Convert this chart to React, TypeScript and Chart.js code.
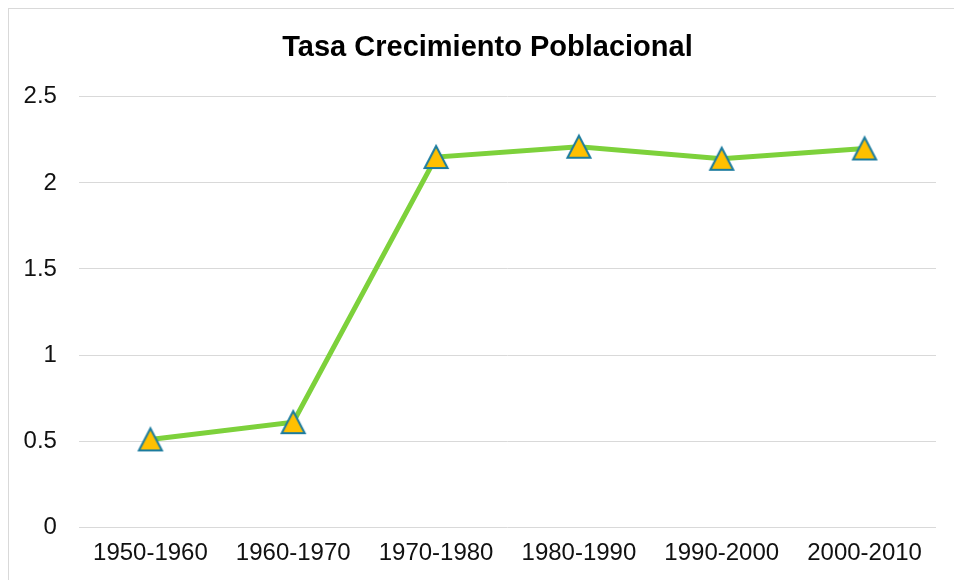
import React, { useEffect, useRef } from "react";
import { Chart, registerables } from "chart.js";

Chart.register(...registerables);

const categories = ["1950-1960", "1960-1970", "1970-1980", "1980-1990", "1990-2000", "2000-2010"];
const tasa = [0.51, 0.61, 2.15, 2.21, 2.14, 2.2];
const titleText = "Tasa Crecimiento Poblacional";

function makeMarker(): HTMLCanvasElement {
  const c = document.createElement("canvas");
  c.width = 28;
  c.height = 28;
  const ctx = c.getContext("2d")!;
  ctx.beginPath();
  ctx.moveTo(14, 3);
  ctx.lineTo(25.5, 25);
  ctx.lineTo(2.5, 25);
  ctx.closePath();
  ctx.fillStyle = "#ffc000";
  ctx.fill();
  ctx.lineWidth = 2;
  ctx.lineJoin = "miter";
  ctx.strokeStyle = "#1b7b9e";
  ctx.stroke();
  return c;
}

export default function App() {
  const ref = useRef<HTMLCanvasElement>(null);
  useEffect(() => {
    if (!ref.current) return;
    const marker = makeMarker();
    const chart = new Chart(ref.current, {
      type: "line",
      data: {
        labels: categories,
        datasets: [
          {
            data: tasa,
            borderColor: "#7dd13b",
            borderWidth: 5,
            pointStyle: marker as any,
            pointRadius: 13,
            tension: 0,
          },
        ],
      },
      options: {
        responsive: false,
        animation: false,
        layout: { padding: { left: 36, right: 15, top: 0, bottom: 8 } },
        plugins: {
          legend: { display: false },
          tooltip: { enabled: false },
          title: {
            display: true,
            text: titleText,
            color: "#000",
            font: { family: "Liberation Sans", size: 29, weight: "bold" },
            padding: { top: 31, bottom: 31 },
          },
        },
        scales: {
          x: {
            offset: true,
            grid: { display: false },
            border: { display: false },
            ticks: {
              color: "#111",
              font: { family: "Liberation Sans", size: 24 },
              padding: 4,
              maxRotation: 0,
              autoSkip: false,
            },
          },
          y: {
            min: 0,
            max: 2.5,
            grid: { color: "#d9d9d9", lineWidth: 1, drawTicks: false },
            border: { display: false },
            afterFit: (scale: any) => {
              scale.width = 43;
            },
            ticks: {
              stepSize: 0.5,
              color: "#111",
              font: { family: "Liberation Sans", size: 24 },
              mirror: true,
              crossAlign: "far",
              padding: -55.4,
              callback: (v: any) => String(Number(v)),
            },
          },
        },
      },
    });
    return () => chart.destroy();
  }, []);
  return (
    <>
      <div
        style={{
          position: "fixed",
          left: 8,
          top: 8,
          width: 1000,
          height: 1000,
          border: "1px solid #d9d9d9",
          background: "#fff",
        }}
      />
      <canvas
        ref={ref}
        width={954}
        height={580}
        style={{ position: "fixed", left: 0, top: 0, width: 954, height: 580 }}
      />
    </>
  );
}
